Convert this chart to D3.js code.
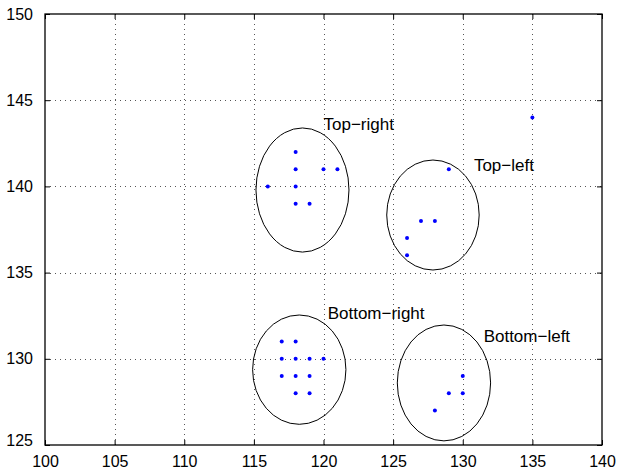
<!DOCTYPE html>
<html>
<head>
<meta charset="utf-8">
<script src="https://cdn.jsdelivr.net/npm/d3@7"></script>
<style>
  html, body { margin: 0; padding: 0; background: #fff; }
  svg { display: block; font-family: "Liberation Sans", Arial, Helvetica, sans-serif; }
</style>
</head>
<body>
<svg id="chart" width="625" height="472"></svg>
<script>
// ---- data ----
const xTicks = [100, 105, 110, 115, 120, 125, 130, 135, 140];
const yTicks = [125, 130, 135, 140, 145, 150];

const pointsX = [118, 118, 120, 121, 116, 118, 118, 119,
                 129, 127, 128, 126, 126,
                 135,
                 117, 118, 117, 118, 119, 120, 117, 118, 119, 118, 119,
                 130, 129, 130, 128];
const pointsY = [142, 141, 141, 141, 140, 140, 139, 139,
                 141, 138, 138, 137, 136,
                 144,
                 131, 131, 130, 130, 130, 130, 129, 129, 129, 128, 128,
                 129, 128, 128, 127];

const clusterNames = ["Top\u2212right", "Top\u2212left", "Bottom\u2212right", "Bottom\u2212left"];
const ellipseCx = [118.49, 127.86, 118.26, 128.65];
const ellipseCy = [139.79, 138.34, 129.37, 128.6];
const ellipseRx = [3.34, 3.32, 3.35, 3.35];
const ellipseRy = [3.6, 3.19, 3.17, 3.36];
const labelX = [120.0, 130.8, 120.3, 131.5];
const labelY = [143.3, 140.9, 132.3, 131.0];

// ---- layout ----
const svg = d3.select("#chart");
const mLeft = 45, mRight = 602, mTop = 14, mBottom = 445;

const x = d3.scaleLinear().domain([100, 140]).range([mLeft, mRight]);
const y = d3.scaleLinear().domain([125, 150]).range([mBottom, mTop]);

// grid
const grid = svg.append("g");
grid.selectAll("line.vx").data(xTicks.slice(1, -1)).join("line")
  .attr("x1", d => Math.round(x(d)) + 0.5).attr("x2", d => Math.round(x(d)) + 0.5)
  .attr("y1", mTop).attr("y2", mBottom)
  .attr("stroke", "#555").attr("stroke-width", 1)
  .attr("stroke-dasharray", "1,4");
grid.selectAll("line.hy").data(yTicks.slice(1, -1)).join("line")
  .attr("y1", d => Math.round(y(d)) + 0.5).attr("y2", d => Math.round(y(d)) + 0.5)
  .attr("x1", mLeft).attr("x2", mRight)
  .attr("stroke", "#555").attr("stroke-width", 1)
  .attr("stroke-dasharray", "1,4");

// axes with inward ticks
const tickLen = 5;
const xAxisB = d3.axisBottom(x).tickValues(xTicks).tickSize(-tickLen).tickPadding(11).tickFormat(d3.format("d"));
const xAxisT = d3.axisTop(x).tickValues(xTicks).tickSize(-tickLen).tickFormat("");
const yAxisL = d3.axisLeft(y).tickValues(yTicks).tickSize(-tickLen).tickPadding(12).tickFormat(d3.format("d"));
const yAxisR = d3.axisRight(y).tickValues(yTicks).tickSize(-tickLen).tickFormat("");

function style(g) {
  g.select(".domain").remove();
  g.selectAll(".tick line").attr("stroke", "#000");
  g.selectAll(".tick text").attr("fill", "#000").style("font-size", "16px");
}
svg.append("g").attr("transform", `translate(0,${mBottom})`).call(xAxisB).call(style);
svg.append("g").attr("transform", `translate(0,${mTop})`).call(xAxisT).call(style);
svg.append("g").attr("transform", `translate(${mLeft},0)`).call(yAxisL).call(style)
  .selectAll(".tick text").attr("dy", (d) => d === 125 ? "0.05em" : "0.32em");
svg.append("g").attr("transform", `translate(${mRight},0)`).call(yAxisR).call(style);

// box
svg.append("rect").attr("x", mLeft).attr("y", mTop)
  .attr("width", mRight - mLeft).attr("height", mBottom - mTop)
  .attr("fill", "none").attr("stroke", "#000").attr("stroke-width", 1.3);

// ellipses
svg.append("g").selectAll("ellipse").data(clusterNames).join("ellipse")
  .attr("cx", (d, i) => x(ellipseCx[i]))
  .attr("cy", (d, i) => y(ellipseCy[i]))
  .attr("rx", (d, i) => x(ellipseCx[i] + ellipseRx[i]) - x(ellipseCx[i]))
  .attr("ry", (d, i) => y(ellipseCy[i] - ellipseRy[i]) - y(ellipseCy[i]))
  .attr("fill", "none").attr("stroke", "#000").attr("stroke-width", 1);

// points
svg.append("g").selectAll("circle").data(pointsX).join("circle")
  .attr("cx", (d, i) => x(d))
  .attr("cy", (d, i) => y(pointsY[i]))
  .attr("r", 2)
  .attr("fill", "#0000ff");

// labels
svg.append("g").selectAll("text").data(clusterNames).join("text")
  .attr("x", (d, i) => x(labelX[i]))
  .attr("y", (d, i) => y(labelY[i]))
  .attr("fill", "#000")
  .style("font-size", "17px")
  .text(d => d);
</script>
</body>
</html>
